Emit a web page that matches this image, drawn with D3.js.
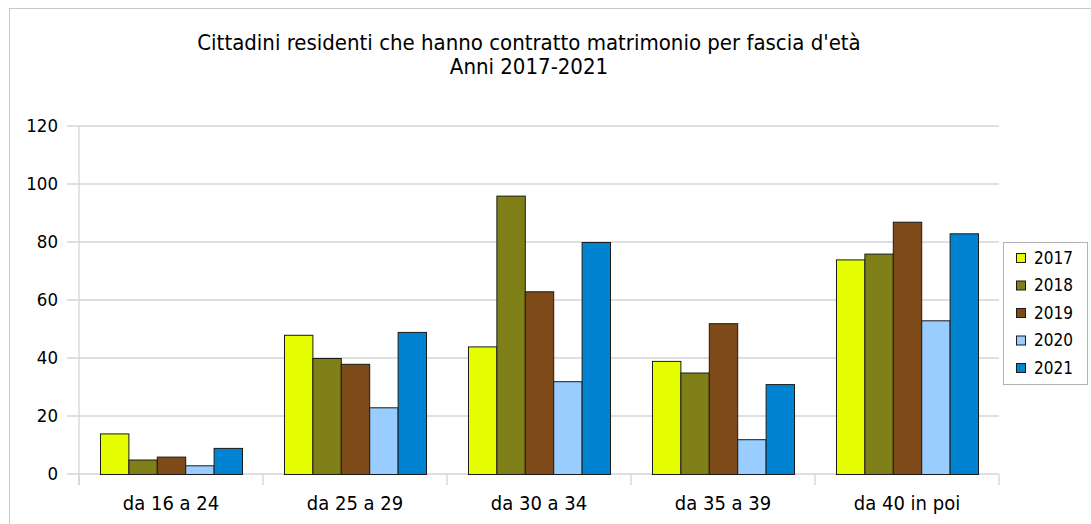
<!DOCTYPE html>
<html><head><meta charset="utf-8">
<script src="https://cdn.jsdelivr.net/npm/d3@7"></script>
<style>body{margin:0;background:#fff}svg{display:block}text{font-family:"DejaVu Sans Condensed","DejaVu Sans",sans-serif;font-stretch:condensed;fill:#000}</style>
</head><body><svg id="c" width="1091" height="524"></svg>
<script>
const categories = ["da 16 a 24","da 25 a 29","da 30 a 34","da 35 a 39","da 40 in poi"];
const years = ["2017","2018","2019","2020","2021"];
const s2017 = [14,48,44,39,74];
const s2018 = [5,40,96,35,76];
const s2019 = [6,38,63,52,87];
const s2020 = [3,23,32,12,53];
const s2021 = [9,49,80,31,83];
const colors = ["#e6ff00","#7f7f17","#7f4a19","#99ccff","#0084d1"];
const yTicks = [0,20,40,60,80,100,120];
const titleLines = ["Cittadini residenti che hanno contratto matrimonio per fascia d'età","Anni 2017-2021"];
const series = [s2017,s2018,s2019,s2020,s2021];

const svg = d3.select("#c");
svg.append("rect").attr("x",9.5).attr("y",8.5).attr("width",1100).attr("height",530).attr("fill","none").attr("stroke","#c8c8c8");
const m = {l:79,r:999,t:126,b:474};
const x = d3.scaleBand().domain(categories).range([m.l,m.r]).paddingInner(0.228).paddingOuter(0.114);
const x1 = d3.scaleBand().domain(years).range([0,x.bandwidth()]);
const y = d3.scaleLinear().domain([0,120]).range([m.b,m.t]);

svg.append("g").selectAll("line").data(yTicks).join("line")
  .attr("x1",67).attr("x2",m.r).attr("y1",d=>y(d)).attr("y2",d=>y(d))
  .attr("stroke","#d4d4d4").attr("stroke-width",1.3);
svg.append("line").attr("x1",m.l).attr("x2",m.l).attr("y1",m.t).attr("y2",m.b+11).attr("stroke","#d4d4d4").attr("stroke-width",1.3);
const bounds = d3.range(categories.length+1).map(i=>m.l+(m.r-m.l)*i/categories.length);
svg.append("g").selectAll("line").data(bounds).join("line")
  .attr("x1",d=>d).attr("x2",d=>d).attr("y1",m.b).attr("y2",m.b+11).attr("stroke","#d4d4d4").attr("stroke-width",1.3);

svg.append("g").selectAll("text").data(yTicks).join("text")
  .attr("x",58).attr("y",d=>y(d)).attr("dy","0.35em").attr("text-anchor","end")
  .attr("font-size",18.5).text(d=>d);

const g = svg.append("g");
series.forEach((s,si)=>{
  g.append("g").selectAll("rect").data(s).join("rect")
    .attr("x",(d,i)=>x(categories[i])+x1(years[si])+0.5)
    .attr("y",d=>y(d)+0.5).attr("width",x1.bandwidth()).attr("height",d=>y(0)-y(d))
    .attr("fill",colors[si]).attr("stroke","#1a1a1a").attr("stroke-width",1);
});

svg.append("g").selectAll("text").data(categories).join("text")
  .attr("x",d=>x(d)+x.bandwidth()/2).attr("y",503).attr("dy","0.35em").attr("text-anchor","middle")
  .attr("font-size",20).text(d=>d);

svg.append("g").selectAll("text").data(titleLines).join("text")
  .attr("x",529).attr("y",(d,i)=>42+i*24).attr("dy","0.35em").attr("text-anchor","middle")
  .attr("font-size",22).text(d=>d);

const lg = svg.append("g");
lg.append("rect").attr("x",1003.5).attr("y",242.5).attr("width",84).attr("height",142).attr("fill","#fff").attr("stroke","#b3b3b3");
years.forEach((yy,i)=>{
  const cy = 258+i*27.5;
  lg.append("rect").attr("x",1016.5).attr("y",cy-4.5).attr("width",9).attr("height",9).attr("fill",colors[i]).attr("stroke","#1a1a1a");
  lg.append("text").attr("x",1034).attr("y",cy).attr("dy","0.35em").attr("font-size",17).text(yy);
});
</script></body></html>
